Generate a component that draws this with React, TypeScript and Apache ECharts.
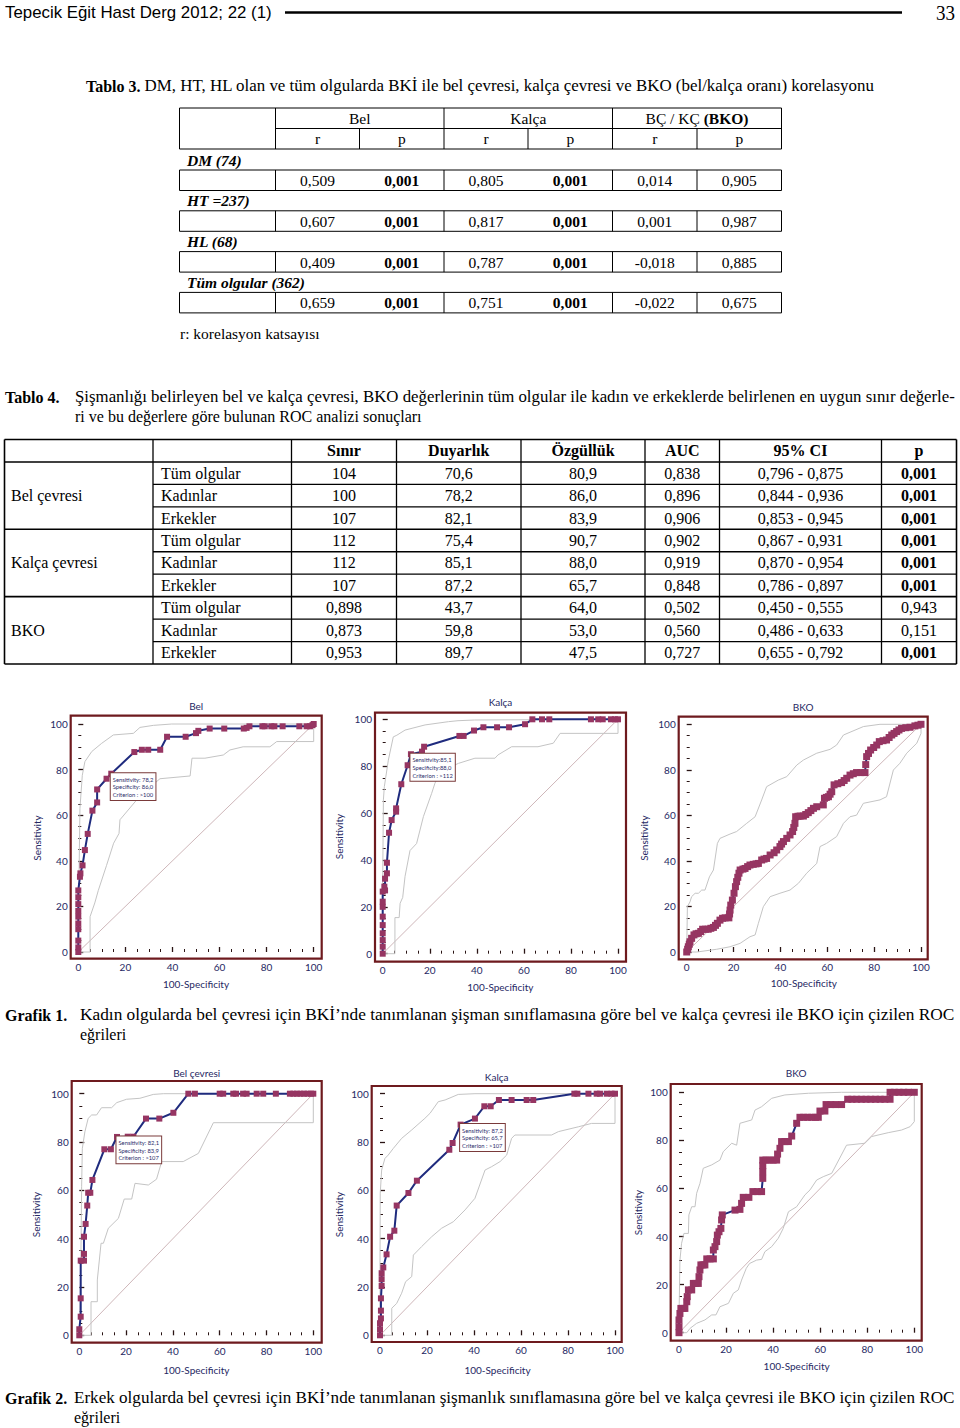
import React, { useEffect, useRef } from "react";
import * as echarts from "echarts";

const PAGE_W = 960;
const PAGE_H = 1428;

// ---------------- Table 3 data ----------------
const t3Groups = ["DM (74)", "HT =237)", "HL (68)", "Tüm olgular (362)"];
const t3BelR = ["0,509", "0,607", "0,409", "0,659"];
const t3BelP = ["0,001", "0,001", "0,001", "0,001"];
const t3KalcaR = ["0,805", "0,817", "0,787", "0,751"];
const t3KalcaP = ["0,001", "0,001", "0,001", "0,001"];
const t3BkoR = ["0,014", "0,001", "-0,018", "-0,022"];
const t3BkoP = ["0,905", "0,987", "0,885", "0,675"];

// ---------------- Table 4 data ----------------
const t4Headers = ["Sınır", "Duyarlık", "Özgüllük", "AUC", "95% CI", "p"];
const t4Groups = ["Bel çevresi", "Kalça çevresi", "BKO"];
const t4Subgroups = ["Tüm olgular", "Kadınlar", "Erkekler"];
const t4Sinir = ["104", "100", "107", "112", "112", "107", "0,898", "0,873", "0,953"];
const t4Duyarlik = ["70,6", "78,2", "82,1", "75,4", "85,1", "87,2", "43,7", "59,8", "89,7"];
const t4Ozgulluk = ["80,9", "86,0", "83,9", "90,7", "88,0", "65,7", "64,0", "53,0", "47,5"];
const t4Auc = ["0,838", "0,896", "0,906", "0,902", "0,919", "0,848", "0,502", "0,560", "0,727"];
const t4Ci = ["0,796 - 0,875", "0,844 - 0,936", "0,853 - 0,945", "0,867 - 0,931", "0,870 - 0,954", "0,786 - 0,897", "0,450 - 0,555", "0,486 - 0,633", "0,655 - 0,792"];
const t4P = ["0,001", "0,001", "0,001", "0,001", "0,001", "0,001", "0,943", "0,151", "0,001"];

// ---------------- ROC data ([100-Specificity, Sensitivity]) ----------------
const diagonal = [[0, 0], [100, 100]];

const kadinBelROC = [[0,0],[0,2],[0,5],[0,10],[0,12.5],[0,15.5],[0,18],[0,21],[0,24],[0,27],[0.7,33],[0.9,34.5],[1.8,38],[2.8,44.7],[4,51.8],[6,62],[8,65.6],[8,71.3],[12,76],[14,78.2],[23.8,87.7],[27,88.7],[29.7,88.7],[34.8,88.7],[37.7,94.4],[45.6,94.4],[50,96],[51,97],[55.8,98],[62,98],[70.3,98],[71.5,98.3],[72.7,99],[78.2,99],[79.2,99],[82,99],[83.3,99],[86.8,99],[93.9,99],[97,99],[98.4,99],[99.5,99.5],[100,100]];
const kadinBelUpper = [[0,0],[0.4,40],[0.7,63],[1.7,77.5],[2.8,83.5],[5.7,87.9],[9.9,91.5],[14.9,95.2],[23.4,95.9],[26.2,98.5],[31.9,99.4],[39.7,100],[100,100]];
const kadinBelLower = [[0,0],[5,0],[5,15.5],[7,21.5],[8.5,27],[12,38],[15,47.7],[17.3,52],[17.7,58],[24.8,66.7],[29,71],[34.7,76],[47.5,77.2],[48.3,85],[53.8,85],[61.6,86.4],[64.4,88.6],[70,90],[81.4,90],[84.3,92.3],[100,92.3],[100,100]];
const kadinBelNote = ["Sensitivity: 78,2", "Specificity: 86,0", "Criterion : >100"];
const kadinBelCut = [14, 78.2];

const kadinKalcaROC = [[0,0],[0,3],[0,5.8],[0,8.7],[0,12.2],[0,15.8],[0,20],[0,22.2],[0,26.5],[0.7,28.6],[1,27],[1,32],[1.8,34.3],[1.8,38.8],[2.7,51.6],[3.8,57],[5.7,60.6],[5.7,62],[7.9,72.3],[10.6,80.4],[12,85.1],[16.7,86.2],[17.6,88.3],[32.6,92.9],[34.4,92.9],[38.8,95.2],[42.8,96.6],[48.6,96.6],[53.7,96.6],[60.5,97.9],[63.6,100],[67.7,100],[70.8,100],[88.5,100],[91.6,100],[93.5,100],[97,100],[98.7,100],[100,100]];
const kadinKalcaUpper = [[0,0],[0,30],[0.3,65.6],[0.7,71.3],[2.4,82.6],[4.5,92.5],[6,93.2],[9.5,95.4],[18,97.6],[28,99],[32,99.4],[39,99.7],[100,100]];
const kadinKalcaLower = [[0,0],[5.2,0],[5.2,15.4],[7,15.4],[7.4,21.5],[8.5,24],[9.5,33],[11.6,44],[14.4,47],[17.3,58.5],[20.8,68.4],[22.2,72.7],[24.4,77.7],[32.2,81.2],[39.2,83.4],[47.7,83.4],[49,84.8],[54.8,88.3],[66,88.3],[72.5,89.8],[75.4,94],[100,94],[100,100]];
const kadinKalcaNote = ["Sensitivity:85,1", "Specificity:88,0", "Criterion : >112"];
const kadinKalcaCut = [12, 85.1];

const kadinBkoROC = [[0,0],[0.4,1.2],[0.7,2.3],[1.1,3.4],[1.4,4.5],[2.1,6],[3.1,7.5],[4,8],[5,8.2],[6,9],[6.8,10],[8,10],[9.2,10],[10.3,10.4],[11.4,10.8],[12.3,11.7],[13.1,12.6],[14.2,14],[15.3,14.8],[16.4,15],[18,15],[18.3,16.7],[18.5,18.4],[18.8,20.6],[19.5,22.8],[20.2,25.8],[20.8,28.7],[21.3,30.9],[21.8,32.8],[22.3,34.6],[22.8,36],[24,36.4],[24.9,36.7],[26,37.5],[27,38.2],[28.4,38.5],[29.6,38.7],[30.6,38.9],[32,40.4],[33,40.8],[34.1,41.1],[35.6,42.6],[37.3,43.6],[38.4,44.8],[39.8,46.3],[40.5,47.4],[41.3,48.5],[42.7,49.9],[44.1,51.4],[45.2,52.9],[45.7,54.7],[46.2,56.5],[46.5,59.4],[47.5,59.6],[48.4,59.7],[49.8,59.7],[50.8,60.4],[51.9,61.2],[53,62.1],[54.1,63.1],[55.5,63.8],[58.3,64.6],[58.8,67.5],[59.6,67.9],[60.5,68.2],[61.2,69.3],[61.9,70.4],[62.9,73.4],[64.5,73.9],[66.1,74.4],[67.2,75.3],[68.3,76.3],[69.7,77.7],[71.1,78.3],[72.5,78.8],[74.3,78.8],[76.1,78.8],[76.4,82.3],[76.8,85.8],[77.6,87.2],[78.5,88.7],[79.8,89.8],[81.1,90.9],[82.2,92.4],[83.8,92.8],[85.3,93.1],[86.4,94.2],[87.5,95.3],[88.5,96],[89.6,96.8],[90.6,97.5],[91.7,98.2],[93.5,98.5],[95.3,98.7],[97.4,99.3],[98.7,99.6],[100,100]];
const kadinBkoUpper = [[0,0],[0.3,19.9],[1.4,22],[2.1,24.3],[3.6,25.8],[5,25.8],[6.4,27.2],[7.8,27.2],[9.7,33],[11.4,36],[13.1,47.7],[14.2,49.9],[18.5,51.8],[21.3,52.9],[25.6,56.5],[29.2,59.4],[32,66.8],[34.1,72.6],[39.1,75.5],[42.7,77],[47,82.1],[49.8,84.3],[55.5,87.3],[61.2,89],[64,90.9],[66.9,95.3],[75.4,99],[82.5,100],[100,100]];
const kadinBkoLower = [[0,0],[4.3,0],[12.8,1.2],[18.5,2.3],[22.8,3.8],[27,6.7],[29.2,7.5],[30.6,12.6],[32.7,19.9],[35.6,24.3],[39.8,25.8],[44.1,27.2],[47.7,30.2],[51.2,34.6],[55.5,38.9],[56.9,46.3],[59.7,47.7],[64,50.7],[66.9,56.5],[69.7,59.4],[72.5,60.1],[75.4,65.3],[82.5,66.8],[85.3,68.2],[88.2,79.9],[91,82.9],[93.9,87.3],[98.2,91.7],[100,96],[100,100]];

const erkekBelROC = [[0,0],[0,2.5],[0.6,7.7],[0.6,15.3],[0.6,30.9],[2,30.9],[2,33.7],[2,40.8],[2.7,46.1],[3.4,53.7],[3.8,59],[4.7,59],[5.6,64.3],[10.7,77],[13.5,77],[16.1,82.1],[20.7,82.2],[23.1,82.2],[28.5,89.7],[34.2,89.7],[40.2,92.1],[46.6,100],[49.4,100],[60,100],[61.5,100],[65.8,100],[67,100],[70,100],[71.5,100],[75.8,100],[78.6,100],[84,100],[90,100],[91.5,100],[93,100],[94.5,100],[96,100],[97.5,100],[99,100],[100,100]];
const erkekBelUpper = [[0,0],[0.4,17.4],[0.7,34],[1,61.5],[1.3,77.4],[2.4,84.3],[3.8,89.8],[5.3,91.2],[7.4,91.2],[9.5,94.2],[13.8,94.2],[16,96.3],[20.2,97.7],[25.9,98.1],[31.6,99.7],[35.9,100],[100,100]];
const erkekBelLower = [[0,0],[5,0],[5,13.9],[7.7,13.9],[7.7,22.9],[9.3,38.1],[10.3,38.1],[12.4,44.3],[16.7,48.4],[19.2,56.4],[22.4,56.4],[23.8,62.9],[29.5,62.2],[33,64.6],[35.2,71.9],[44.4,71.9],[50.9,75.3],[57.3,88],[100,88],[100,100]];
const erkekBelNote = ["Sensitivity: 82,1", "Specificity: 83,9", "Criterion : >107"];
const erkekBelCut = [16.1, 82.1];

const erkekKalcaROC = [[0,0],[0,2.5],[0,5],[0.4,7],[0.4,10.2],[0.4,15.3],[0.7,20.4],[0.7,23.2],[0.7,25.7],[1.4,28.1],[2.8,33.5],[4.3,40.8],[6.1,43.3],[7.1,53.7],[12.1,58.9],[15.7,64],[29.5,76.8],[30.9,79.6],[34.3,87.2],[40.4,89.7],[44.4,94.8],[47.1,94.8],[50.6,97.4],[56,97.4],[62.4,97.4],[65.2,97.4],[82.7,100],[84,100],[88.7,100],[92.2,100],[93.6,100],[96.5,100],[98.5,100],[100,100]];
const erkekKalcaUpper = [[0,0],[0,28.4],[0.1,58.8],[0.7,68.4],[2.1,73.2],[3.5,74.6],[5.7,77.4],[9.2,81.5],[13.5,85],[19.1,89.8],[21.3,91.9],[24.8,96.7],[27.7,97.4],[33.3,99.7],[40.4,100],[100,100]];
const erkekKalcaLower = [[0,0],[5,0],[5,11.2],[7.1,13.2],[9.2,17.4],[10.9,22.2],[13.5,24.3],[14.2,33.2],[17.7,36.7],[22,40.8],[26.2,44.3],[31.2,47],[36.2,51.9],[40.4,56.7],[44.7,68.4],[47.5,69.8],[51.1,71.9],[53.9,74.6],[56,81.5],[57.4,82.9],[73,82.9],[75.9,84.3],[84.4,86.3],[90,87.7],[100,87.7],[100,100]];
const erkekKalcaNote = ["Sensitivity: 87,2", "Specificity: 65,7", "Criterion : >107"];
const erkekKalcaCut = [34.3, 87.2];

const erkekBkoROC = [[0,0],[0,2.5],[0,5.3],[0.4,8],[0.8,10.1],[1.7,10.1],[2.5,10.1],[3.3,12.9],[3.5,15],[4,17.8],[5.4,17.8],[6.1,20.5],[7.2,20.5],[8.2,20.5],[8.5,23.3],[8.9,26.1],[9.3,28.2],[10.2,28.2],[11,28.2],[11.8,30.7],[13.2,30.7],[14.6,30.7],[14.6,34.4],[15.3,35.8],[16,37.9],[16.3,40.6],[17,42],[17.8,43.4],[18.1,46.9],[18.4,49],[23.8,51],[25.9,51.3],[26.6,53.8],[27.3,56.3],[29.7,56.3],[31.4,58.7],[33.3,58.7],[35.1,58.7],[35.6,64.2],[35.6,67],[35.6,69.5],[35.6,71.8],[37,71.8],[38.5,71.8],[40,71.8],[41.5,71.8],[41.9,74.3],[42.9,76.7],[43.6,79.5],[45,79.5],[46.5,79.5],[47.9,81.8],[50,87.1],[51.4,89.6],[53,89.6],[54.7,89.6],[56.4,89.6],[58,89.6],[59.2,89.6],[59.9,92.2],[62,92.2],[62.5,94.9],[64.5,94.9],[66.7,94.9],[69.1,94.9],[71.7,97.1],[73.5,97.1],[75.5,97.1],[77.5,97.1],[79.5,97.1],[81.5,97.1],[83.5,97.1],[85.5,97.1],[87.5,97.1],[89.7,97.1],[89.7,100],[91.5,100],[93.5,100],[95.5,100],[97.5,100],[100,100]];
const erkekBkoUpper = [[0,0],[0.1,12.2],[0.4,30.2],[1.1,37.2],[2.1,41.3],[4,41.3],[4.2,49],[5.4,52.4],[6.8,52.4],[7.5,58],[8.9,62.1],[10.3,68.4],[13.9,69.8],[17.4,71.8],[18.8,75.3],[22.4,78.8],[24.5,78],[25.9,87.1],[30.9,88.5],[32.3,92.6],[35.1,94],[39.4,97.5],[45,98.9],[55,99.6],[69.1,100],[100,100]];
const erkekBkoLower = [[0,0],[3.3,0],[4.7,1.8],[7.5,3.9],[11,5.3],[13.9,7.4],[15.7,7.4],[17.4,10.8],[21,12.2],[23.1,16.4],[25.2,17.8],[26.6,21.9],[28.6,26.8],[30,28.8],[33,30.2],[35.1,30.5],[36.5,33.7],[39.4,35.8],[42.2,39.3],[44.3,43.4],[46.5,50.3],[50,52.4],[53.5,57.3],[55.7,59.4],[58.5,63.5],[61.3,64.9],[64.9,66.3],[71.2,78],[79,78.8],[81.9,81.6],[88.9,83.2],[94.6,84.3],[98.2,85.7],[100,87.8],[100,100]];

const panelTitles = ["Bel", "Kalça", "BKO", "Bel çevresi", "Kalça", "BKO"];
const xAxisName = "100-Specificity";
const yAxisName = "Sensitivity";
const xTickLabels = [0, 20, 40, 60, 80, 100];

// ---------------- captions ----------------
const headerLeft = "Tepecik Eğit Hast Derg 2012; 22 (1)";
const headerPage = "33";
const t3TitleBold = "Tablo 3.";
const t3TitleText = "DM, HT, HL olan ve tüm olgularda BKİ ile bel çevresi, kalça çevresi ve BKO (bel/kalça oranı) korelasyonu";
const t3Note = "r: korelasyon katsayısı";
const t4TitleBold = "Tablo 4.";
const t4TitleLine1 = "Şişmanlığı belirleyen bel ve kalça çevresi, BKO değerlerinin tüm olgular ile kadın ve erkeklerde belirlenen en uygun sınır değerle-";
const t4TitleLine2 = "ri ve bu değerlere göre bulunan ROC analizi sonuçları";
const g1Bold = "Grafik 1.";
const g1Line1 = "Kadın olgularda bel çevresi için BKİ’nde tanımlanan şişman sınıflamasına göre bel ve kalça çevresi ile BKO için çizilen ROC";
const g1Line2 = "eğrileri";
const g2Bold = "Grafik 2.";
const g2Line1 = "Erkek olgularda bel çevresi için BKİ’nde tanımlanan şişmanlık sınıflamasına göre bel ve kalça çevresi ile BKO için çizilen ROC";
const g2Line2 = "eğrileri";

// ---------------- layout (pixels) ----------------
const SERIF = "Liberation Serif";
const SANS = "Liberation Sans";
const CHART_FONT = "Lato";
const NAVY = "#262863";

const panelLayout = [
  { x0: 78.3, x100: 313.7, y100: 724, y0: 952, L: 70.7, R: 321.7, T: 715.7, B: 958.7, titleY: 706, xNameY: 985, yNameX: 36, sym: 6 },
  { x0: 382.7, x100: 618, y100: 719.3, y0: 953.7, L: 375, R: 626, T: 712.7, B: 961.7, titleY: 702, xNameY: 987.7, yNameX: 338.3, sym: 6 },
  { x0: 686.7, x100: 921, y100: 724.3, y0: 952, L: 678.7, R: 927.7, T: 716.7, B: 959.3, titleY: 706.7, xNameY: 984, yNameX: 643.3, sym: 7 },
  { x0: 79.3, x100: 313.3, y100: 1093.7, y0: 1335.3, L: 71.7, R: 321.7, T: 1081, B: 1342.7, titleY: 1073, xNameY: 1371, yNameX: 35, sym: 6 },
  { x0: 380, x100: 615, y100: 1093.7, y0: 1335.3, L: 371.7, R: 621.7, T: 1086, B: 1342, titleY: 1076.7, xNameY: 1370.7, yNameX: 338.3, sym: 6 },
  { x0: 679, x100: 914.3, y100: 1092.3, y0: 1332.7, L: 670.7, R: 921.7, T: 1084, B: 1340.7, titleY: 1073.3, xNameY: 1366.7, yNameX: 636.7, sym: 7 },
];

let measureCtx: CanvasRenderingContext2D | null = null;
function measure(text: string, size: number, family: string, bold = false, italic = false) {
  if (!measureCtx) measureCtx = document.createElement("canvas").getContext("2d");
  if (!measureCtx) return text.length * size * 0.45;
  measureCtx.font = `${italic ? "italic " : ""}${bold ? "bold " : ""}${size}px ${family}`;
  return measureCtx.measureText(text).width;
}

type TxtOpts = { size?: number; family?: string; bold?: boolean; italic?: boolean; align?: string; color?: string; fit?: number };
function txt(text: string, x: number, y: number, o: TxtOpts = {}) {
  const size = o.size ?? 16;
  const family = o.family ?? SERIF;
  const align = o.align ?? "left";
  let scaleX = 1;
  if (o.fit) scaleX = o.fit / measure(text, size, family, o.bold, o.italic);
  return {
    type: "text",
    x,
    y,
    scaleX,
    silent: true,
    style: {
      text,
      fontSize: size,
      fontFamily: family,
      fontWeight: o.bold ? "bold" : "normal",
      fontStyle: o.italic ? "italic" : "normal",
      fill: o.color ?? "#000",
      align,
      verticalAlign: "middle",
      textAlign: align,
      textVerticalAlign: "middle",
    },
  };
}
function ln(x1: number, y1: number, x2: number, y2: number, w = 1, color = "#000") {
  return { type: "line", silent: true, shape: { x1, y1, x2, y2 }, style: { stroke: color, lineWidth: w } };
}

function buildOption() {
  const el: any[] = [];

  // ---- page header ----
  el.push(txt(headerLeft, 5, 12.5, { family: SANS, size: 17, fit: 267 }));
  el.push(ln(285, 12.5, 902, 12.5, 2.4));
  el.push(txt(headerPage, 936, 12.5, { size: 22, fit: 19 }));

  // ---- Tablo 3 title ----
  const t3bw = measure(t3TitleBold, 16, SERIF, true);
  el.push(txt(t3TitleBold, 86, 86, { bold: true }));
  el.push(txt(t3TitleText, 86 + t3bw + 4, 86, { fit: 875 - (86 + t3bw + 4) }));

  // ---- Table 3 ----
  const T3 = { L: 179.5, C1: 275.5, R: 781.5, top: 108, mid: 128.5, hb: 149 };
  const t3Split = [444, 612.5];
  const t3Sub = [359.5, 528, 697];
  el.push(ln(T3.L, T3.top, T3.R, T3.top));
  el.push(ln(T3.C1, T3.mid, T3.R, T3.mid));
  el.push(ln(T3.L, T3.hb, T3.R, T3.hb));
  [T3.L, T3.C1, ...t3Split, T3.R].forEach((x) => el.push(ln(x, T3.top, x, T3.hb)));
  t3Sub.forEach((x) => el.push(ln(x, T3.mid, x, T3.hb)));
  const t3HeadY = (T3.top + T3.mid) / 2;
  const t3SubY = (T3.mid + T3.hb) / 2;
  el.push(txt("Bel", (T3.C1 + t3Split[0]) / 2, t3HeadY, { size: 15.5, align: "center" }));
  el.push(txt("Kalça", (t3Split[0] + t3Split[1]) / 2, t3HeadY, { size: 15.5, align: "center" }));
  {
    const a = "BÇ / KÇ ";
    const b = "(BKO)";
    const wa = measure(a, 15.5, SERIF);
    const wb = measure(b, 15.5, SERIF, true);
    const cx = (t3Split[1] + T3.R) / 2;
    const sx = cx - (wa + wb) / 2;
    el.push(txt(a, sx, t3HeadY, { size: 15.5 }));
    el.push(txt(b, sx + wa, t3HeadY, { size: 15.5, bold: true }));
  }
  const t3Bounds = [T3.C1, t3Sub[0], t3Split[0], t3Sub[1], t3Split[1], t3Sub[2], T3.R];
  const t3Cols = [t3BelR, t3BelP, t3KalcaR, t3KalcaP, t3BkoR, t3BkoP];
  const t3IsP = [false, true, false, true, false, true];
  t3Cols.forEach((_, c) => {
    el.push(txt(c % 2 === 0 ? "r" : "p", (t3Bounds[c] + t3Bounds[c + 1]) / 2, t3SubY, { size: 15.5, align: "center" }));
  });
  t3Groups.forEach((g, i) => {
    const bt = 170 + i * 40.8;
    const bb = bt + 20.5;
    el.push(txt(g, 187, bt - 10, { size: 15.5, bold: true, italic: true }));
    el.push(ln(T3.L, bt, T3.R, bt));
    el.push(ln(T3.L, bb, T3.R, bb));
    [T3.L, T3.C1, ...t3Split, t3Sub[2], T3.R].forEach((x) => el.push(ln(x, bt, x, bb)));
    t3Cols.forEach((col, c) => {
      const v = col[i];
      el.push(txt(v, (t3Bounds[c] + t3Bounds[c + 1]) / 2, bt + 10.5, { size: 15.5, align: "center", bold: t3IsP[c] && v === "0,001" }));
    });
  });
  el.push(txt(t3Note, 180, 333, { size: 15.5 }));

  // ---- Tablo 4 title ----
  el.push(txt(t4TitleBold, 5, 397, { bold: true }));
  el.push(txt(t4TitleLine1, 75, 397, { fit: 880 }));
  el.push(txt(t4TitleLine2, 75, 416));

  // ---- Table 4 ----
  const c4 = [4.5, 153, 291.5, 396.5, 521, 645, 719.5, 881.5, 956.5];
  const top4 = 439.5;
  const rh = 22.45;
  for (let k = 0; k <= 10; k++) {
    const y = top4 + k * rh;
    const full = k === 0 || k === 1 || k === 4 || k === 7 || k === 10;
    el.push(ln(full ? c4[0] : c4[1], y, c4[8], y, full ? 1.6 : 1.3));
  }
  c4.forEach((x, i) => el.push(ln(x, top4, x, top4 + 10 * rh, i === 0 || i === 8 ? 1.6 : 1.3)));
  t4Headers.forEach((h, i) => el.push(txt(h, (c4[i + 2] + c4[i + 3]) / 2, top4 + rh / 2, { size: 16, bold: true, align: "center" })));
  const t4Cols = [t4Sinir, t4Duyarlik, t4Ozgulluk, t4Auc, t4Ci, t4P];
  for (let r = 0; r < 9; r++) {
    const y = top4 + (r + 1.5) * rh;
    el.push(txt(t4Subgroups[r % 3], 161, y, { size: 16 }));
    t4Cols.forEach((col, i) => {
      const v = col[r];
      el.push(txt(v, (c4[i + 2] + c4[i + 3]) / 2, y, { size: 16, align: "center", bold: i === 5 && v === "0,001" }));
    });
  }
  t4Groups.forEach((g, i) => el.push(txt(g, 11, top4 + rh + (i * 3 + 1.5) * rh, { size: 16 })));

  // ---- figure captions ----
  el.push(txt(g1Bold, 5, 1015, { bold: true }));
  el.push(txt(g1Line1, 80, 1015, { fit: 875 }));
  el.push(txt(g1Line2, 80, 1034));
  el.push(txt(g2Bold, 5, 1398, { bold: true }));
  el.push(txt(g2Line1, 74, 1398, { fit: 881 }));
  el.push(txt(g2Line2, 74, 1417));

  // ---- ROC panels ----
  const panelData = [
    { roc: kadinBelROC, upper: kadinBelUpper, lower: kadinBelLower, note: kadinBelNote, cut: kadinBelCut },
    { roc: kadinKalcaROC, upper: kadinKalcaUpper, lower: kadinKalcaLower, note: kadinKalcaNote, cut: kadinKalcaCut },
    { roc: kadinBkoROC, upper: kadinBkoUpper, lower: kadinBkoLower, note: null, cut: null },
    { roc: erkekBelROC, upper: erkekBelUpper, lower: erkekBelLower, note: erkekBelNote, cut: erkekBelCut },
    { roc: erkekKalcaROC, upper: erkekKalcaUpper, lower: erkekKalcaLower, note: erkekKalcaNote, cut: erkekKalcaCut },
    { roc: erkekBkoROC, upper: erkekBkoUpper, lower: erkekBkoLower, note: null, cut: null },
  ];

  const grid: any[] = [];
  const xAxis: any[] = [];
  const yAxis: any[] = [];
  const series: any[] = [];
  const tickStyle = { color: "#2a1414", width: 1.3 };
  const labelStyle = { color: NAVY, fontSize: 10, fontFamily: CHART_FONT };

  panelLayout.forEach((g, i) => {
    const d = panelData[i];
    grid.push({ left: g.x0, top: g.y100, width: g.x100 - g.x0, height: g.y0 - g.y100, show: false });
    xAxis.push({
      gridIndex: i, type: "value", min: xTickLabels[0], max: xTickLabels[xTickLabels.length - 1], interval: 20,
      position: "bottom", offset: g.B - g.y0,
      axisLine: { show: false },
      axisTick: { show: true, inside: true, length: 5, lineStyle: tickStyle },
      minorTick: { show: true, splitNumber: 4, length: 3, lineStyle: { color: "#2a1414", width: 1 } },
      splitLine: { show: false }, minorSplitLine: { show: false },
      axisLabel: { ...labelStyle, margin: 3 },
      name: xAxisName, nameLocation: "middle", nameGap: g.xNameY - g.B - 6,
      nameTextStyle: { color: NAVY, fontSize: 10, fontFamily: CHART_FONT },
    });
    yAxis.push({
      gridIndex: i, type: "value", min: 0, max: 100, interval: 20,
      position: "left", offset: g.x0 - g.L,
      axisLine: { show: false },
      axisTick: { show: true, inside: true, length: 5, lineStyle: tickStyle },
      minorTick: { show: true, splitNumber: 4, length: 3, lineStyle: { color: "#2a1414", width: 1 } },
      splitLine: { show: false }, minorSplitLine: { show: false },
      axisLabel: { ...labelStyle, margin: 3 },
      name: yAxisName, nameLocation: "middle", nameRotate: 90, nameGap: g.L - g.yNameX - 6,
      nameTextStyle: { color: NAVY, fontSize: 10, fontFamily: CHART_FONT },
    });
    // frame + title
    el.push({ type: "rect", silent: true, shape: { x: g.L, y: g.T, width: g.R - g.L, height: g.B - g.T }, style: { fill: "none", stroke: "#6e1a1e", lineWidth: 2.2 } });
    el.push(txt(panelTitles[i], (g.L + g.R) / 2, g.titleY, { family: CHART_FONT, size: 10, align: "center", color: NAVY }));

    const common = { xAxisIndex: i, yAxisIndex: i, silent: true, animation: false, clip: false };
    series.push({ ...common, type: "line", data: diagonal, symbol: "none", lineStyle: { color: "#c8aeb1", width: 0.9 }, z: 1 });
    series.push({ ...common, type: "line", data: d.upper, symbol: "none", lineStyle: { color: "#c4c4c4", width: 1 }, z: 1 });
    series.push({ ...common, type: "line", data: d.lower, symbol: "none", lineStyle: { color: "#c4c4c4", width: 1 }, z: 1 });
    const main: any = {
      ...common, type: "line", data: d.roc, symbol: "rect", symbolSize: g.sym, showAllSymbol: true,
      lineStyle: { color: "#1f2b7e", width: 2 }, itemStyle: { color: "#963562" }, z: 3,
    };
    if (d.note && d.cut) {
      main.markPoint = {
        silent: true, animation: false, symbol: "rect", symbolSize: 1, itemStyle: { color: "rgba(0,0,0,0)" },
        data: [{ coord: d.cut, value: 0 }],
        label: {
          show: true, position: [0, 0], formatter: d.note.join("\n"),
          fontFamily: CHART_FONT, fontSize: 5.8, lineHeight: 7.8, color: "#2b2d6b",
          backgroundColor: "#ffffff", borderColor: "#7a3a3a", borderWidth: 1, padding: [2, 2, 1.5, 2],
          align: "left", verticalAlign: "top",
        },
      };
    }
    series.push(main);
  });

  return {
    animation: false,
    backgroundColor: "#ffffff",
    grid, xAxis, yAxis, series,
    graphic: { elements: el },
  };
}

export default function App() {
  const ref = useRef<HTMLDivElement>(null);
  useEffect(() => {
    if (!ref.current) return;
    const chart = echarts.init(ref.current, null, { renderer: "svg", width: PAGE_W, height: PAGE_H });
    chart.setOption(buildOption());
    return () => chart.dispose();
  }, []);
  return <div ref={ref} style={{ position: "absolute", left: 0, top: 0, width: PAGE_W, height: PAGE_H, background: "#fff" }} />;
}
